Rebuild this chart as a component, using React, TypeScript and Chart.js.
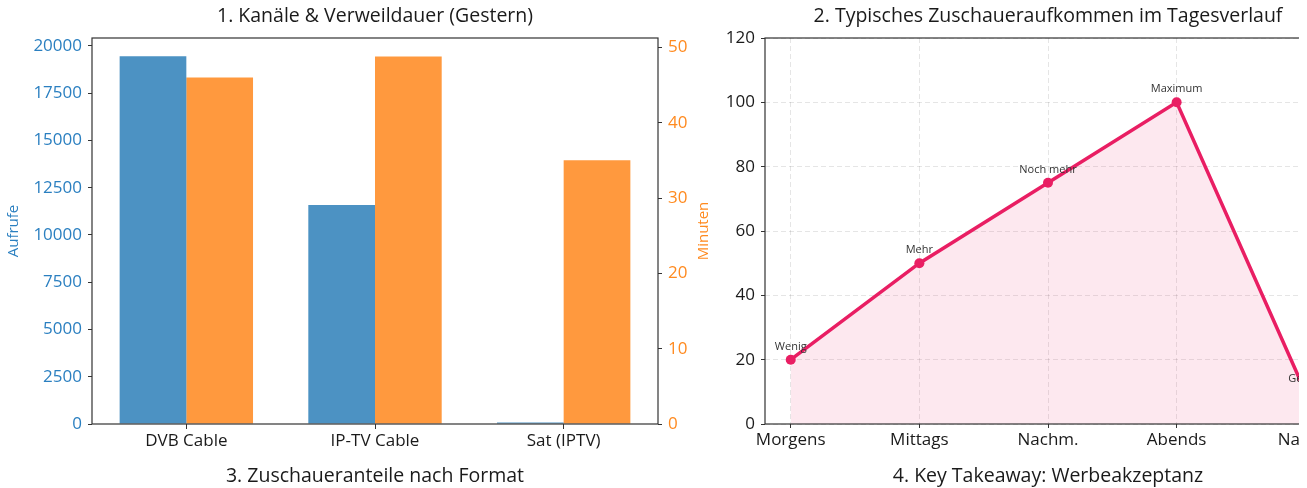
import React, { useEffect, useRef } from 'react';
import { Chart, registerables } from 'chart.js';

Chart.register(...registerables);

// ---- data ----
const channels = ['DVB Cable', 'IP-TV Cable', 'Sat (IPTV)'];
const views = [19450, 11580, 80];
const minutes = [46, 48.8, 35];
const viewTicks = [0, 2500, 5000, 7500, 10000, 12500, 15000, 17500, 20000];
const minuteTicks = [0, 10, 20, 30, 40, 50];

const dayParts = ['Morgens', 'Mittags', 'Nachm.', 'Abends', 'Nachts'];
const audience = [20, 50, 75, 100, 10];
const audienceNotes = ['Wenig', 'Mehr', 'Noch mehr', 'Maximum', 'Gering'];
const audienceTicks = [0, 20, 40, 60, 80, 100, 120];

const FONT = "'Open Sans', sans-serif";
const TEXT = '#1a1a1a';
const SPINE = '#333333';
const BLUE = '#2a7fc0';
const ORANGE = '#ff8a1f';
const PINK = '#e91e63';
const TICK_SIZE = 17;
const TITLE_SIZE = 19.5;

const plain = (v: any) => String(v);

const framePlugin = {
  id: 'frame',
  afterDatasetsDraw(chart: any) {
    const { ctx, chartArea: a } = chart;
    ctx.save();
    ctx.strokeStyle = SPINE;
    ctx.lineWidth = 1.2;
    ctx.strokeRect(a.left, a.top, a.right - a.left, a.bottom - a.top);
    ctx.restore();
  },
};

const titleOpts = (text: string) => ({
  display: true,
  fullSize: false,
  text,
  color: TEXT,
  font: { family: FONT, size: TITLE_SIZE, weight: 'normal', lineHeight: 1.2 },
  padding: { top: 5, bottom: 9.6 },
});

function LeftChart() {
  const ref = useRef<HTMLCanvasElement>(null);
  useEffect(() => {
    const rightTitle = {
      id: 'rightTitle',
      afterDraw(chart: any) {
        const { ctx, chartArea: a } = chart;
        ctx.save();
        ctx.translate(704, (a.top + a.bottom) / 2);
        ctx.rotate(-Math.PI / 2);
        ctx.fillStyle = ORANGE;
        ctx.font = `15px ${FONT}`;
        ctx.textAlign = 'center';
        ctx.textBaseline = 'middle';
        ctx.fillText('Minuten', 0, 0);
        ctx.restore();
      },
    };
    const chart = new Chart(ref.current!, {
      type: 'bar',
      data: {
        labels: channels,
        datasets: [
          {
            label: 'Aufrufe',
            data: views,
            yAxisID: 'y',
            backgroundColor: 'rgba(31,119,180,0.8)',
            barPercentage: 1,
            categoryPercentage: 0.707,
          },
          {
            label: 'Minuten',
            data: minutes,
            yAxisID: 'y1',
            backgroundColor: 'rgba(255,127,14,0.8)',
            barPercentage: 1,
            categoryPercentage: 0.707,
          },
        ],
      },
      options: {
        responsive: false,
        animation: false,
        layout: { padding: 0 },
        plugins: {
          legend: { display: false },
          tooltip: { enabled: false },
          title: titleOpts('1. Kanäle & Verweildauer (Gestern)'),
        },
        scales: {
          x: {
            offset: true,
            grid: { offset: false, drawOnChartArea: false, drawTicks: true, tickLength: 5, color: SPINE },
            border: { display: false },
            ticks: { color: TEXT, font: { family: FONT, size: TICK_SIZE }, padding: 2 },
            afterFit: (s: any) => { s.height = 64; },
          },
          y: {
            position: 'left',
            min: 0,
            max: 20422,
            afterBuildTicks: (s: any) => { s.ticks = viewTicks.map((v) => ({ value: v })); },
            grid: { drawOnChartArea: false, tickLength: 4, color: SPINE },
            border: { display: false },
            ticks: { color: BLUE, font: { family: FONT, size: TICK_SIZE }, padding: 6, callback: plain },
            title: { display: true, text: 'Aufrufe', color: BLUE, font: { family: FONT, size: 15 }, padding: { top: 5, bottom: 0 } },
            afterFit: (s: any) => { s.width = 92; },
          },
          y1: {
            position: 'right',
            min: 0,
            max: 51.24,
            afterBuildTicks: (s: any) => { s.ticks = minuteTicks.map((v) => ({ value: v })); },
            grid: { drawOnChartArea: false, tickLength: 4, color: SPINE },
            border: { display: false },
            ticks: { color: ORANGE, font: { family: FONT, size: TICK_SIZE }, padding: 6, callback: plain },
            afterFit: (s: any) => { s.width = 54; },
          },
        },
      } as any,
      plugins: [framePlugin, rightTitle],
    });
    return () => chart.destroy();
  }, []);
  return <canvas ref={ref} width={712} height={488} style={{ position: 'absolute', left: 0, top: 0, width: 712, height: 488 }} />;
}

function RightChart() {
  const ref = useRef<HTMLCanvasElement>(null);
  useEffect(() => {
    const notes = {
      id: 'notes',
      afterDatasetsDraw(chart: any) {
        const { ctx } = chart;
        const meta = chart.getDatasetMeta(0);
        ctx.save();
        ctx.fillStyle = '#333';
        ctx.font = `11px ${FONT}`;
        ctx.textAlign = 'center';
        ctx.textBaseline = 'middle';
        meta.data.forEach((el: any, i: number) => {
          ctx.fillText(audienceNotes[i], el.x, el.y - 13);
        });
        ctx.restore();
      },
    };
    const chart = new Chart(ref.current!, {
      type: 'line',
      data: {
        datasets: [
          {
            label: 'Zuschauer',
            data: audience.map((v, i) => ({ x: i, y: v })),
            borderColor: PINK,
            borderWidth: 3.5,
            pointRadius: 5,
            pointBackgroundColor: PINK,
            pointBorderWidth: 0,
            fill: 'origin',
            backgroundColor: 'rgba(233,30,99,0.1)',
            tension: 0,
          },
        ],
      },
      options: {
        responsive: false,
        animation: false,
        layout: { padding: { left: 0, right: 21, top: 0, bottom: 0 } },
        plugins: {
          legend: { display: false },
          tooltip: { enabled: false },
          title: titleOpts('2. Typisches Zuschaueraufkommen im Tagesverlauf'),
        },
        scales: {
          x: {
            type: 'linear',
            min: -0.2,
            max: 4.2,
            afterBuildTicks: (s: any) => { s.ticks = dayParts.map((_, i) => ({ value: i })); },
            grid: { color: 'rgba(0,0,0,0.1)', tickColor: SPINE, tickLength: 4 },
            border: { display: false, dash: [5, 3] },
            ticks: {
              color: TEXT,
              font: { family: FONT, size: TICK_SIZE },
              padding: 2,
              callback: (v: any) => dayParts[Math.round(v)],
            },
            afterFit: (s: any) => { s.height = 64; },
          },
          y: {
            min: 0,
            max: 120,
            afterBuildTicks: (s: any) => { s.ticks = audienceTicks.map((v) => ({ value: v })); },
            grid: { color: 'rgba(0,0,0,0.1)', tickColor: SPINE, tickLength: 4 },
            border: { display: false, dash: [5, 3] },
            ticks: { color: TEXT, font: { family: FONT, size: TICK_SIZE }, padding: 6, callback: plain },
            afterFit: (s: any) => { s.width = 53; },
          },
        },
      } as any,
      plugins: [framePlugin, notes],
    });
    return () => chart.destroy();
  }, []);
  return <canvas ref={ref} width={640} height={488} style={{ position: 'absolute', left: 712, top: 0, width: 640, height: 488 }} />;
}

const bottomTitle: React.CSSProperties = {
  position: 'absolute',
  top: 463,
  transform: 'translateX(-50%)',
  whiteSpace: 'nowrap',
  fontFamily: FONT,
  fontSize: TITLE_SIZE,
  lineHeight: '24px',
  color: TEXT,
};

export default function App() {
  return (
    <div style={{ position: 'fixed', left: 0, top: 0, width: 1299, height: 488, overflow: 'hidden', background: '#fff' }}>
      <LeftChart />
      <RightChart />
      <div style={{ ...bottomTitle, left: 375 }}>3. Zuschaueranteile nach Format</div>
      <div style={{ ...bottomTitle, left: 1048 }}>4. Key Takeaway: Werbeakzeptanz</div>
    </div>
  );
}
